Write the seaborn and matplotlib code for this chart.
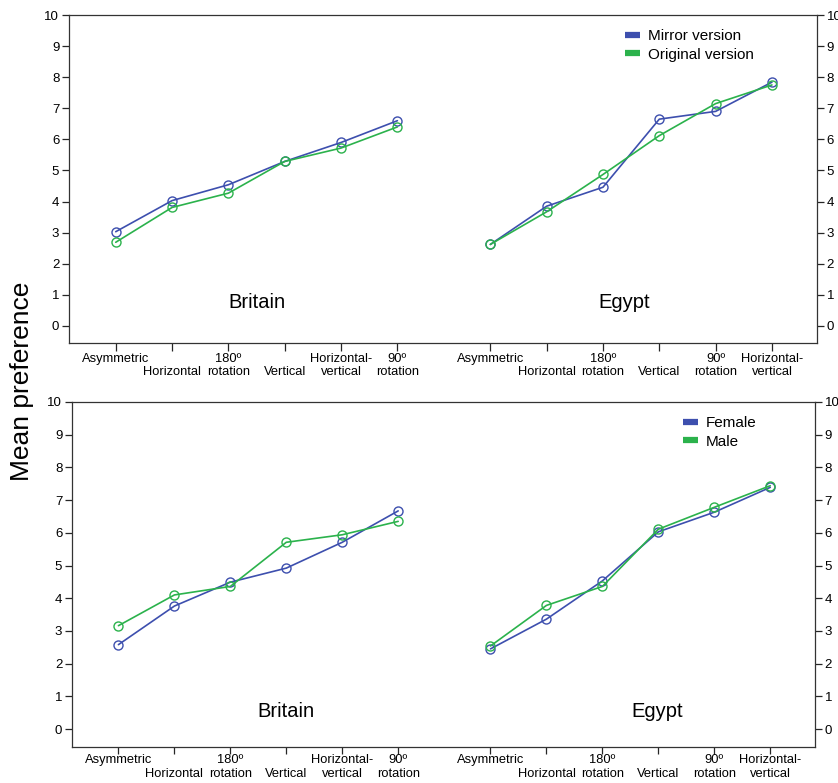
import matplotlib
matplotlib.use("Agg")
import matplotlib.pyplot as plt
from matplotlib.lines import Line2D
import numpy as np
import pandas as pd
import seaborn as sns

sns.set_theme(style="ticks")
plt.rcParams["font.family"] = ["Liberation Sans", "DejaVu Sans"]
plt.rcParams["text.color"] = "black"
plt.rcParams["xtick.labelcolor"] = "black"
plt.rcParams["ytick.labelcolor"] = "black"

# tick labels (stacked in two rows like the original figure)
britain_labels = ["Asymmetric\n", "\nHorizontal", "180º\nrotation", "\nVertical",
                  "Horizontal-\nvertical", "90º\nrotation"]
egypt_labels = ["Asymmetric\n", "\nHorizontal", "180º\nrotation", "\nVertical",
                "90º\nrotation", "Horizontal-\nvertical"]

# top panel: version
mirror_britain = [3.03, 4.03, 4.54, 5.29, 5.90, 6.60]
original_britain = [2.69, 3.81, 4.27, 5.29, 5.72, 6.40]
mirror_egypt = [2.62, 3.85, 4.46, 6.65, 6.90, 7.84]
original_egypt = [2.62, 3.67, 4.87, 6.12, 7.15, 7.75]

# bottom panel: sex
female_britain = [2.58, 3.76, 4.49, 4.92, 5.71, 6.67]
male_britain = [3.16, 4.10, 4.36, 5.71, 5.94, 6.35]
female_egypt = [2.45, 3.36, 4.53, 6.03, 6.63, 7.39]
male_egypt = [2.54, 3.78, 4.36, 6.11, 6.78, 7.44]

blue = "#3d4fae"
green = "#2bb24c"

x_brit = np.arange(6)
x_egy = np.arange(6) + 6.65


def make_df(series):
    rows = []
    for name, country, xs, vals in series:
        for x, v in zip(xs, vals):
            rows.append({"group": name, "country": country, "x": x, "score": v})
    return pd.DataFrame(rows)


fig = plt.figure(figsize=(8.38, 7.83), dpi=100)
ax1 = fig.add_axes([69 / 838, 1 - 343 / 783, (817 - 69) / 838, (343 - 15) / 783])
ax2 = fig.add_axes([72 / 838, 1 - 747 / 783, (815 - 72) / 838, (747 - 402) / 783])

panels = [
    (ax1, ["Mirror version", "Original version"],
     [mirror_britain, original_britain], [mirror_egypt, original_egypt],
     [(2.5, 0.76), (9.03, 0.76)], 1.5, 6, 1.12, (0.93, 0.99)),
    (ax2, ["Female", "Male"],
     [female_britain, male_britain], [female_egypt, male_egypt],
     [(3.0, 0.55), (9.63, 0.55)], 0.0, 5, 1.2, (0.936, 0.99)),
]

for ax, names, brit, egy, label_pos, xpad, xlen, lsp, leg_anchor in panels:
    df = make_df([
        (names[0], "Britain", x_brit, brit[0]),
        (names[1], "Britain", x_brit, brit[1]),
        (names[0], "Egypt", x_egy, egy[0]),
        (names[1], "Egypt", x_egy, egy[1]),
    ])
    sns.lineplot(data=df, x="x", y="score", hue="group", units="country",
                 estimator=None, palette=[blue, green], marker="o",
                 markersize=6.5, mfc="none", mew=1.0, lw=1.2, legend=False, ax=ax)
    for ln in ax.lines:
        ln.set_markeredgecolor(ln.get_color())

    ax.set_xlim(-0.83, 12.45)
    ax.set_ylim(-0.55, 10)
    ax.set_yticks(range(11))
    ax.set_xticks(np.concatenate([x_brit, x_egy]))
    ax.set_xticklabels(britain_labels + egypt_labels, fontsize=9.3,
                       linespacing=lsp)
    ax.set_xlabel("")
    ax.set_ylabel("")
    ax.tick_params(axis="y", labelsize=9.5, length=5, width=0.9,
                   left=True, right=True, labelleft=True, labelright=True, pad=2)
    ax.tick_params(axis="x", length=xlen, width=0.9, pad=xpad)
    for sp in ax.spines.values():
        sp.set_linewidth(0.9)
        sp.set_color("#333333")

    ax.text(label_pos[0][0], label_pos[0][1], "Britain", fontsize=14.5,
            ha="center", va="center")
    ax.text(label_pos[1][0], label_pos[1][1], "Egypt", fontsize=14.5,
            ha="center", va="center")

    handles = [Line2D([], [], color=blue, lw=4.5, solid_capstyle="butt"),
               Line2D([], [], color=green, lw=4.5, solid_capstyle="butt")]
    ax.legend(handles, names, loc="upper right", bbox_to_anchor=leg_anchor,
              frameon=False, fontsize=11, handlelength=1.0, handletextpad=0.5,
              labelspacing=0.3, borderpad=0.2)

fig.text(0.026, 1 - 381 / 783, "Mean preference", rotation=90, fontsize=19,
         ha="center", va="center")

fig.savefig("out.png", dpi=100)
